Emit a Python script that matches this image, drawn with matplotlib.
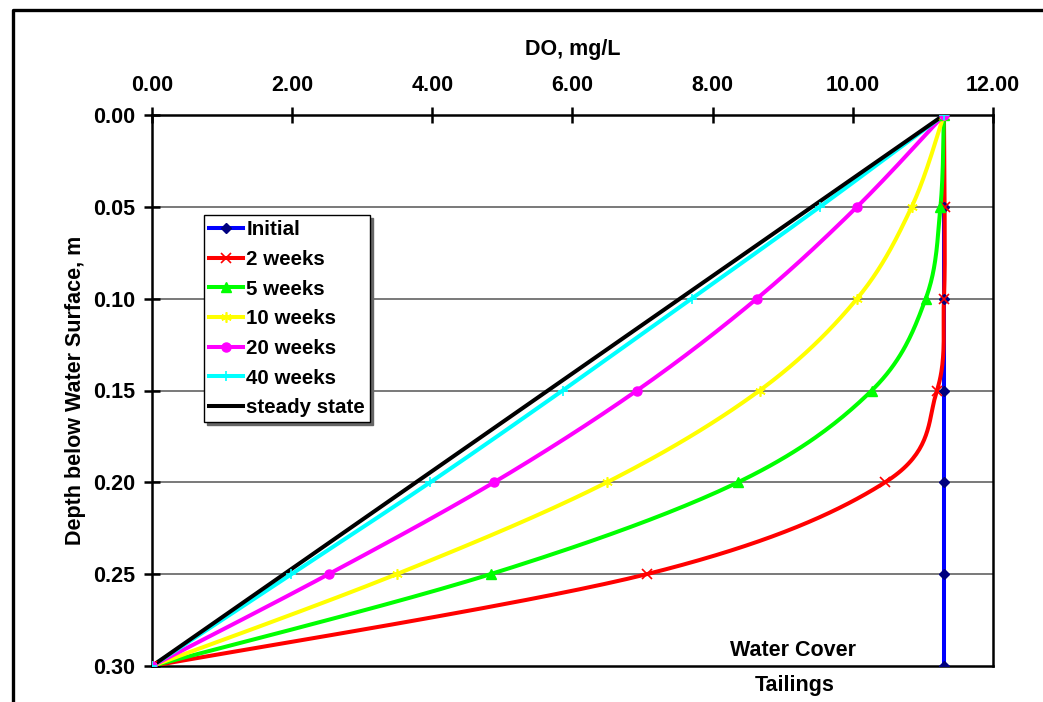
import numpy as np
import matplotlib
matplotlib.use("Agg")
import matplotlib.pyplot as plt
from matplotlib.lines import Line2D

# Depth below water surface (m) and dissolved oxygen profiles (mg/L)
depth = [0.00, 0.05, 0.10, 0.15, 0.20, 0.25, 0.30]
do_initial = [11.30, 11.30, 11.30, 11.30, 11.30, 11.30, 11.30]
do_2wk = [11.30, 11.31, 11.30, 11.20, 10.46, 7.06, 0.00]
do_5wk = [11.30, 11.25, 11.04, 10.27, 8.36, 4.83, 0.00]
do_10wk = [11.30, 10.84, 10.06, 8.67, 6.49, 3.49, 0.00]
do_20wk = [11.30, 10.06, 8.63, 6.92, 4.88, 2.52, 0.00]
do_40wk = [11.30, 9.53, 7.70, 5.86, 3.97, 1.99, 0.00]
steady_depth = [0.00, 0.30]
do_steady = [11.30, 0.00]

series_labels = ["Initial", "2 weeks", "5 weeks", "10 weeks",
                 "20 weeks", "40 weeks", "steady state"]
x_ticks = [0, 2, 4, 6, 8, 10, 12]
y_ticks = [0.00, 0.05, 0.10, 0.15, 0.20, 0.25, 0.30]

plt.rcParams["font.family"] = ["Liberation Sans", "DejaVu Sans"]
plt.rcParams["font.weight"] = "bold"
FS = 15.5
LEG_FS = 14.8

W, H = 1043, 702
fig = plt.figure(figsize=(W / 100, H / 100), dpi=100)
ax = fig.add_axes([152 / W, 1 - 666 / H, (993 - 152) / W, (666 - 115) / H])

XMAX, YMAX = 12.0, 0.30
PXW, PXH = 841.0, 551.0


def smooth(xs, ys, n=40):
    """Bezier smoothing through the points, in screen-proportional space."""
    u = np.asarray(xs, float) / XMAX * PXW
    v = np.asarray(ys, float) / YMAX * PXH
    P = np.column_stack([u, v])
    m = len(P)
    if m < 3:
        return list(xs), list(ys)
    out = [P[0]]
    for i in range(m - 1):
        p0 = P[i - 1] if i > 0 else P[i]
        p1 = P[i]
        p2 = P[i + 1]
        p3 = P[i + 2] if i + 2 < m else P[i + 1]
        c1 = p1 + (p2 - p0) / 6.0
        c2 = p2 - (p3 - p1) / 6.0
        t = np.linspace(0, 1, n)[1:, None]
        seg = ((1 - t) ** 3) * p1 + 3 * ((1 - t) ** 2) * t * c1 \
            + 3 * (1 - t) * t ** 2 * c2 + t ** 3 * p2
        out.extend(seg)
    out = np.array(out)
    return out[:, 0] / PXW * XMAX, out[:, 1] / PXH * YMAX


LW = 2.9
styles = [
    dict(color="#0000ff", marker="D", ms=5, mfc="#000080", mec="#000080"),
    dict(color="#ff0000", marker="x", ms=6.5, mfc="#ff0000", mec="#ff0000", mew=1.2),
    dict(color="#00ff00", marker="^", ms=6.5, mfc="#00ff00", mec="#00ff00"),
    dict(color="#ffff00", marker=(6, 2, 0), ms=7.5, mfc="#ffff00", mec="#ffff00", mew=1.2),
    dict(color="#ff00ff", marker="o", ms=6.5, mfc="#ff00ff", mec="#ff00ff"),
    dict(color="#00ffff", marker="+", ms=7.5, mfc="#00ffff", mec="#00ffff", mew=1.2),
    dict(color="#000000", marker=None),
]
profiles = [(do_initial, depth), (do_2wk, depth), (do_5wk, depth),
            (do_10wk, depth), (do_20wk, depth), (do_40wk, depth),
            (do_steady, steady_depth)]

handles = []
for (xs, ys), st, lab in zip(profiles, styles, series_labels):
    sx, sy = smooth(xs, ys)
    ax.plot(sx, sy, color=st["color"], lw=LW, solid_capstyle="round", zorder=3)
    if st["marker"] is not None:
        ax.plot(xs, ys, ls="none", marker=st["marker"], ms=st["ms"],
                mfc=st["mfc"], mec=st["mec"], mew=st.get("mew", 1.0), zorder=4)
        handles.append(Line2D([], [], color=st["color"], lw=LW, marker=st["marker"],
                              ms=st["ms"], mfc=st["mfc"], mec=st["mec"],
                              mew=st.get("mew", 1.0)))
    else:
        handles.append(Line2D([], [], color=st["color"], lw=LW))

ax.set_xlim(0, XMAX)
ax.set_ylim(YMAX, 0)
ax.xaxis.tick_top()
ax.xaxis.set_label_position("top")
ax.set_xticks(x_ticks)
ax.set_xticklabels([f"{v:.2f}" for v in x_ticks])
ax.set_yticks(y_ticks)
ax.set_yticklabels([f"{v:.2f}" for v in y_ticks])
ax.tick_params(axis="both", direction="inout", length=12, width=1.8,
               labelsize=FS, colors="black")
ax.tick_params(axis="x", pad=8)
ax.tick_params(axis="y", pad=6)
for lbl in ax.get_xticklabels() + ax.get_yticklabels():
    lbl.set_fontweight("bold")

ax.set_xlabel("DO, mg/L", fontsize=FS, fontweight="bold", labelpad=14)
ax.set_ylabel("Depth below Water Surface, m", fontsize=FS, fontweight="bold",
              labelpad=5)

for yv in y_ticks[1:-1]:
    ax.axhline(yv, color="#555555", lw=1.1, zorder=1)
for sp in ax.spines.values():
    sp.set_linewidth(1.8)
    sp.set_color("black")

leg = ax.legend(handles, series_labels, loc="upper left",
                bbox_to_anchor=((204 - 152) / PXW, 1 - (215 - 115) / PXH),
                borderaxespad=0, frameon=True, fancybox=False,
                shadow={"color": "#666666", "alpha": 1.0}, framealpha=1,
                edgecolor="black", handlelength=1.65, handletextpad=0.15,
                labelspacing=0.52, borderpad=0.25,
                prop={"weight": "bold", "size": LEG_FS})
leg.get_frame().set_linewidth(1.0)
leg.set_zorder(6)

fig.text(793 / W, 1 - 651 / H, "Water Cover", ha="center", va="center",
         fontsize=FS, fontweight="bold")
fig.text(795 / W, 1 - 686 / H, "Tailings", ha="center", va="center",
         fontsize=FS, fontweight="bold")

# Outer chart-area frame (left and top edges)
fig.add_artist(Line2D([12.5 / W, 12.5 / W, 1.0], [0.0, 1 - 9.5 / H, 1 - 9.5 / H],
                      transform=fig.transFigure, color="black", lw=2.4))

fig.savefig("out.png", dpi=100)
